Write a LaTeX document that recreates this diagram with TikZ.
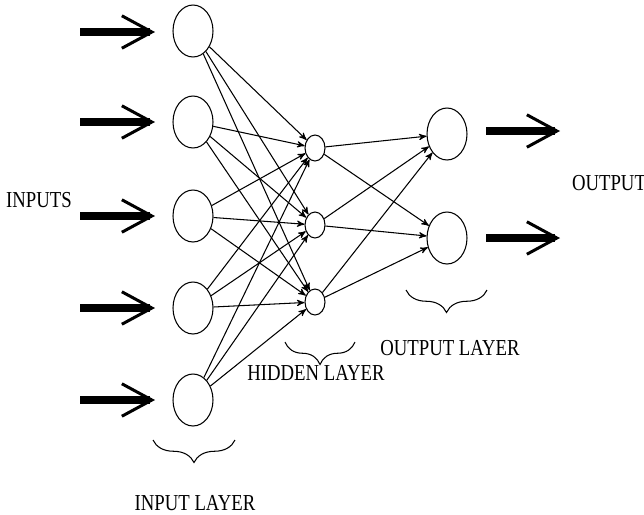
\documentclass[tikz,border=0pt]{standalone}
\usepackage{fontspec}
\newfontfamily\labelfont[FakeStretch=0.82]{Liberation Serif}
\usepackage{tikz}
\usetikzlibrary{arrows,arrows.meta,shapes.geometric,decorations.pathreplacing}

\begin{document}
\begin{tikzpicture}[x=0.02cm,y=-0.02cm]
\tikzset{neuron/.style = {shape=ellipse,draw,semithick,inner sep=0pt,minimum width=0.8cm,minimum height=1.04cm}}
\tikzset{hidden/.style = {shape=ellipse,draw,semithick,inner sep=0pt,minimum width=0.4cm,minimum height=0.52cm}}
\tikzset{edge/.style = {->,> = stealth',semithick}}
\tikzset{bigarrow/.style = {line width=1.5mm,-{Straight Barb[length=6mm,width=6.5mm,line width=0.6mm]}}}
\tikzset{layerbrace/.style = {decorate,decoration={brace,amplitude=0.45cm,mirror},semithick}}
\tikzset{lbl/.style = {font=\labelfont\fontsize{13}{15}\selectfont,inner sep=0pt}}
\useasboundingbox (0,0) rectangle (644,514);

% input layer
\node[neuron] (i1) at (193,31)  {};
\node[neuron] (i2) at (193,122) {};
\node[neuron] (i3) at (193,216) {};
\node[neuron] (i4) at (193,308) {};
\node[neuron] (i5) at (193,400) {};

% hidden layer
\node[hidden] (h1) at (315,148) {};
\node[hidden] (h2) at (315,225) {};
\node[hidden] (h3) at (315,302) {};

% output layer
\node[neuron] (o1) at (447,134) {};
\node[neuron] (o2) at (447,238) {};

% free ends of the big arrows
\coordinate (a1) at (80,32);   \coordinate (b1) at (155,32);
\coordinate (a2) at (80,122);  \coordinate (b2) at (155,122);
\coordinate (a3) at (80,216);  \coordinate (b3) at (155,216);
\coordinate (a4) at (80,308);  \coordinate (b4) at (155,308);
\coordinate (a5) at (80,400);  \coordinate (b5) at (155,400);
\coordinate (c1) at (486,131); \coordinate (d1) at (560,131);
\coordinate (c2) at (486,238); \coordinate (d2) at (560,238);

%big arrows
\draw[bigarrow] (a1) -- (b1);
\draw[bigarrow] (a2) -- (b2);
\draw[bigarrow] (a3) -- (b3);
\draw[bigarrow] (a4) -- (b4);
\draw[bigarrow] (a5) -- (b5);
\draw[bigarrow] (c1) -- (d1);
\draw[bigarrow] (c2) -- (d2);

%edges
\draw[edge] (i1) to (h1);
\draw[edge] (i1) to (h2);
\draw[edge] (i1) to (h3);
\draw[edge] (i2) to (h1);
\draw[edge] (i2) to (h2);
\draw[edge] (i2) to (h3);
\draw[edge] (i3) to (h1);
\draw[edge] (i3) to (h2);
\draw[edge] (i3) to (h3);
\draw[edge] (i4) to (h1);
\draw[edge] (i4) to (h2);
\draw[edge] (i4) to (h3);
\draw[edge] (i5) to (h1);
\draw[edge] (i5) to (h2);
\draw[edge] (i5) to (h3);
\draw[edge] (h1) to (o1);
\draw[edge] (h1) to (o2);
\draw[edge] (h2) to (o1);
\draw[edge] (h2) to (o2);
\draw[edge] (h3) to (o1);
\draw[edge] (h3) to (o2);

%braces
\draw[layerbrace] (153,440) -- (235,440);
\draw[layerbrace] (285,342) -- (355,342);
\draw[layerbrace] (406,290) -- (487,290);

%labels
\node[lbl] (inputs)  at (39,200)  {INPUTS};
\node[lbl] (outputs) at (609,183) {OUTPUT};
\node[lbl] (ilayer)  at (195,503) {INPUT LAYER};
\node[lbl] (hlayer)  at (316,373) {HIDDEN LAYER};
\node[lbl] (olayer)  at (450,348) {OUTPUT LAYER};
\end{tikzpicture}
\end{document}
